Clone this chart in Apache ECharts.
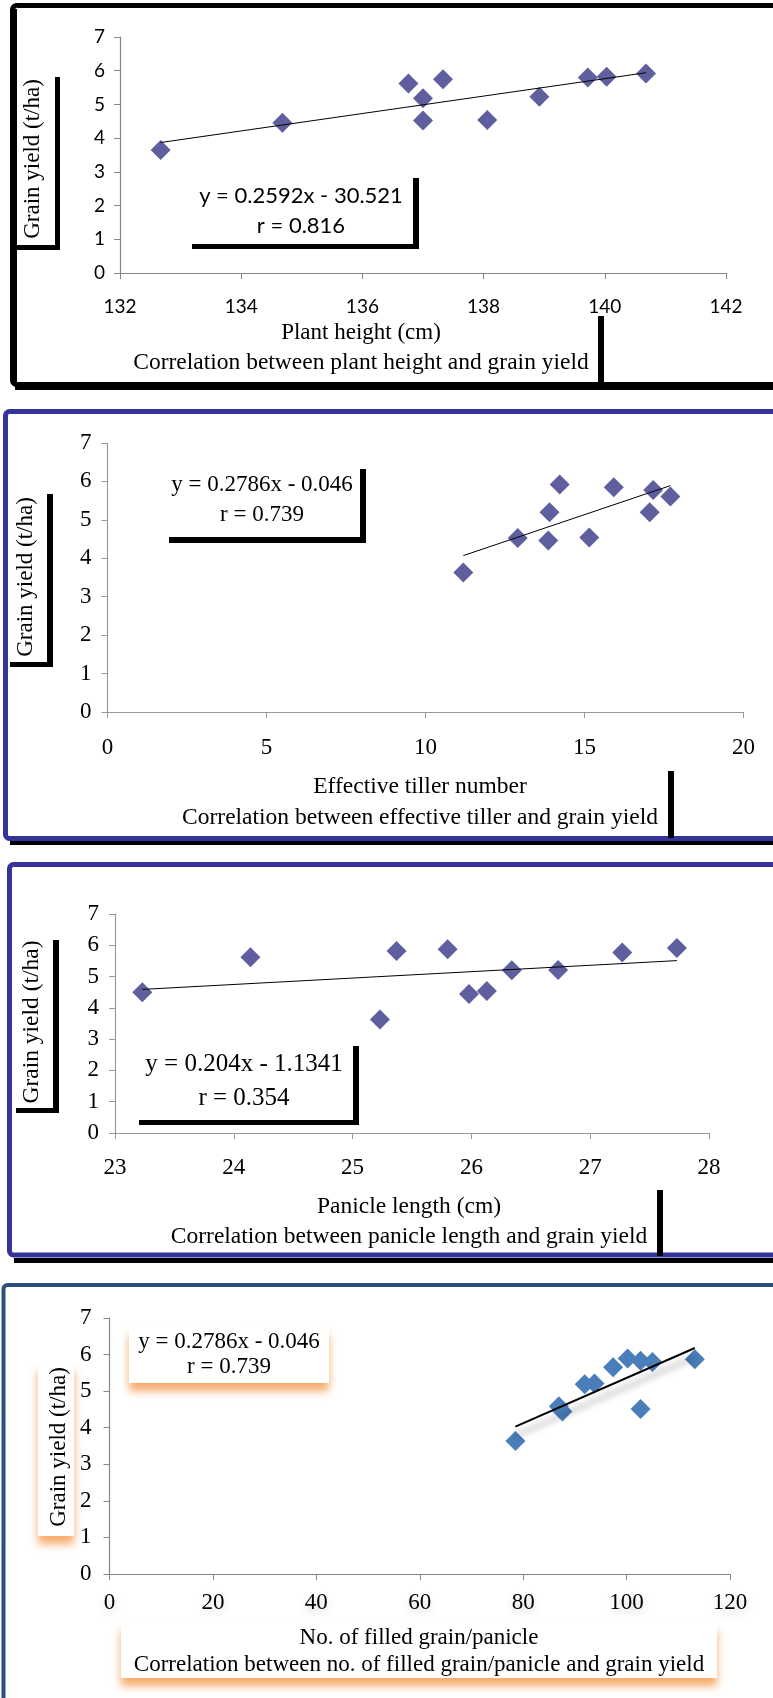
<!DOCTYPE html>
<html>
<head>
<meta charset="utf-8">
<script src="https://cdn.jsdelivr.net/npm/echarts@6/dist/echarts.min.js"></script>
<style>
  html, body { margin: 0; padding: 0; background: #fff; }
  #chart { width: 773px; height: 1698px; }
</style>
</head>
<body>
<div id="chart"></div>
<script>
// ---- data ----
// grain yield (t/ha) vs plant height (cm)
var heightX = [132.67, 134.68, 136.76, 137.0, 137.0, 137.33, 138.06, 138.92, 139.72, 140.03, 140.68];
var heightY = [3.65, 4.46, 5.62, 5.18, 4.52, 5.75, 4.54, 5.23, 5.80, 5.82, 5.92];
var heightTrend = [[132.67, 3.87], [140.68, 5.94]];

// vs effective tiller number
var tillerX = [11.19, 12.9, 13.86, 13.9, 14.22, 15.15, 15.92, 17.05, 17.16, 17.7];
var tillerY = [3.63, 4.53, 4.46, 5.2, 5.92, 4.54, 5.85, 5.2, 5.78, 5.61];
var tillerTrend = [[11.19, 4.07], [17.7, 5.89]];

// vs panicle length (cm)
var panicleX = [23.23, 24.14, 25.23, 25.37, 25.8, 25.98, 26.13, 26.34, 26.73, 27.27, 27.73];
var panicleY = [4.50, 5.62, 3.63, 5.82, 5.87, 4.44, 4.54, 5.2, 5.21, 5.77, 5.91];
var panicleTrend = [[23.23, 4.59], [27.73, 5.51]];

// vs no. of filled grain/panicle
var grainX = [78.5, 86.9, 87.6, 91.9, 93.8, 97.4, 100.2, 102.7, 102.7, 105.0, 113.2];
var grainY = [3.64, 4.59, 4.44, 5.19, 5.21, 5.65, 5.89, 5.83, 4.51, 5.8, 5.87];
var grainTrend = [[78.5, 4.03], [113.2, 6.18]];

// axis ranges [min, max, interval]
var heightAxis = [132, 142, 2];
var tillerAxis = [0, 20, 5];
var panicleAxis = [23, 28, 1];
var grainAxis = [0, 120, 20];
var yieldAxis = [0, 7, 1];

var equations = [
  ['y = 0.2592x - 30.521', 'r = 0.816'],
  ['y = 0.2786x - 0.046', 'r = 0.739'],
  ['y = 0.204x - 1.1341', 'r = 0.354'],
  ['y = 0.2786x - 0.046', 'r = 0.739']
];
var xTitles = ['Plant height (cm)', 'Effective tiller number', 'Panicle length (cm)', 'No. of filled grain/panicle'];
var captions = [
  'Correlation between plant height and grain yield',
  'Correlation between effective tiller and grain yield',
  'Correlation between panicle length and grain yield',
  'Correlation between no. of filled grain/panicle and grain yield'
];
var yTitle = 'Grain yield (t/ha)';

var SERIF = '"Liberation Serif", "Times New Roman", serif';
var SANS = 'Lato, "Liberation Sans", sans-serif';

function pairs(xs, ys) {
  return xs.map(function (x, i) { return [x, ys[i]]; });
}

function xAxisOf(idx, range, font, size, margin, color, glow) {
  var lab = { fontFamily: font, fontSize: size, color: '#000', margin: margin };
  if (glow) {
    lab.textShadowColor = 'rgba(0,0,0,0.18)';
    lab.textShadowBlur = 8;
    lab.textShadowOffsetY = 4;
  }
  return {
    type: 'value', gridIndex: idx, min: range[0], max: range[1], interval: range[2],
    axisLine: { show: true, onZero: false, lineStyle: { color: color, width: 1.2 } },
    axisTick: { show: true, length: 6, lineStyle: { color: color } },
    splitLine: { show: false },
    axisLabel: lab
  };
}

function yAxisOf(idx, font, size, margin, color) {
  return {
    type: 'value', gridIndex: idx, min: yieldAxis[0], max: yieldAxis[1], interval: yieldAxis[2],
    axisLine: { show: true, onZero: false, lineStyle: { color: color, width: 1.2 } },
    axisTick: { show: true, length: 6, lineStyle: { color: color } },
    splitLine: { show: false },
    axisLabel: { fontFamily: font, fontSize: size, color: '#000', margin: margin }
  };
}

function points(idx, data, color) {
  return {
    type: 'scatter', xAxisIndex: idx, yAxisIndex: idx, data: data,
    symbol: 'diamond', symbolSize: 20, itemStyle: { color: color, opacity: 1 },
    z: 3
  };
}

function trend(idx, data, width, shadow) {
  var ls = { color: '#000', width: width };
  if (shadow) {
    ls.shadowColor = 'rgba(0,0,0,0.45)';
    ls.shadowBlur = 7;
    ls.shadowOffsetY = 9;
  }
  return {
    type: 'line', xAxisIndex: idx, yAxisIndex: idx, data: data,
    symbol: 'none', lineStyle: ls, z: 4, silent: true
  };
}

function bar(x, y, w, h) {
  return { type: 'rect', shape: { x: x, y: y, width: w, height: h }, style: { fill: '#000' }, z: 10 };
}

function txt(s, x, y, font, size, rot) {
  return {
    type: 'text', x: x, y: y, rotation: rot || 0, z: 12,
    style: { text: s, x: 0, y: 0, fontFamily: font, fontSize: size, fill: '#000', align: 'center', verticalAlign: 'middle' }
  };
}

function frame(x, y, w, h, color, lw) {
  return { type: 'rect', shape: { x: x, y: y, width: w, height: h, r: 4 }, style: { fill: 'none', stroke: color, lineWidth: lw }, z: 9 };
}

function shadowBox(x, y, w, h) {
  return {
    type: 'rect', shape: { x: x, y: y, width: w, height: h }, z: 1,
    style: { fill: '#fff', shadowColor: 'rgba(246,168,100,0.95)', shadowBlur: 8, shadowOffsetY: 8 }
  };
}

var purple = '#5F5F9F';
var steel = '#4A7EBB';

var graphics = [
  // panel 1 frame (black)
  frame(12.5, 5.5, 800, 379, '#000', 5),
  bar(15, 385, 760, 5),
  bar(15, 9, 2, 376),
  // panel 2 frame (blue)
  frame(5.5, 411.5, 800, 427, '#333399', 5),
  bar(10, 841, 763, 4),
  // panel 3 frame (blue)
  frame(9.5, 864.5, 800, 390.5, '#333399', 5),
  bar(14, 1258, 759, 5),
  // panel 4 frame (dark blue)
  frame(3.5, 1285, 800, 500, '#2C4F80', 4),

  // panel 1 texts and brackets
  txt(yTitle, 32.5, 159, SERIF, 23, Math.PI / 2),
  bar(55, 77, 5, 173), bar(17, 245, 43, 5),
  txt(equations[0][0], 301, 196, SANS, 22),
  txt(equations[0][1], 301, 226, SANS, 22),
  bar(413, 178, 6, 71), bar(192, 244, 227, 5),
  txt(xTitles[0], 361, 333, SERIF, 23),
  txt(captions[0], 361, 363, SERIF, 23.5),
  bar(598, 316, 6, 68),

  // panel 2
  txt(yTitle, 26, 577, SERIF, 23, Math.PI / 2),
  bar(47, 494, 6, 173), bar(10, 662, 43, 5),
  txt(equations[1][0], 262, 485, SERIF, 23),
  txt(equations[1][1], 262, 515, SERIF, 23),
  bar(360, 469, 6, 74), bar(169, 537, 197, 6),
  txt(xTitles[1], 420, 787, SERIF, 23.5),
  txt(captions[1], 420, 818, SERIF, 23.5),
  bar(668, 771, 6, 67),

  // panel 3
  txt(yTitle, 32, 1022, SERIF, 23.5, Math.PI / 2),
  bar(53, 940, 6, 173), bar(16, 1108, 43, 5),
  txt(equations[2][0], 244, 1064, SERIF, 25),
  txt(equations[2][1], 244, 1098, SERIF, 25),
  bar(353, 1046, 6, 79), bar(139, 1120, 219, 5),
  txt(xTitles[2], 409, 1207, SERIF, 23.5),
  txt(captions[2], 409, 1237, SERIF, 23.5),
  bar(657, 1190, 6, 66),

  // panel 4 (boxes with orange shadow)
  shadowBox(38, 1363, 36, 173),
  shadowBox(129, 1327, 200, 56),
  shadowBox(121, 1623, 596, 55),
  txt(yTitle, 59, 1447, SERIF, 23, Math.PI / 2),
  txt(equations[3][0], 229, 1342, SERIF, 23),
  txt(equations[3][1], 229, 1367, SERIF, 23),
  txt(xTitles[3], 419, 1638, SERIF, 23),
  txt(captions[3], 419, 1665, SERIF, 23)
];

var chart = echarts.init(document.getElementById('chart'));
chart.setOption({
  animation: false,
  backgroundColor: '#fff',
  grid: [
    { left: 120, top: 37, width: 606, height: 236 },
    { left: 107.5, top: 443, width: 636, height: 269 },
    { left: 115, top: 914, width: 594, height: 219 },
    { left: 109.5, top: 1318, width: 620.5, height: 256 }
  ],
  xAxis: [
    xAxisOf(0, heightAxis, SANS, 19, 24, '#868686', false),
    xAxisOf(1, tillerAxis, SERIF, 23, 24, '#9a9a9a', false),
    xAxisOf(2, panicleAxis, SERIF, 23, 23, '#9a9a9a', false),
    xAxisOf(3, grainAxis, SERIF, 23, 17, '#868686', true)
  ],
  yAxis: [
    yAxisOf(0, SANS, 19, 15, '#868686'),
    yAxisOf(1, SERIF, 23, 16, '#9a9a9a'),
    yAxisOf(2, SERIF, 23, 16, '#9a9a9a'),
    yAxisOf(3, SERIF, 23, 18, '#868686')
  ],
  series: [
    trend(0, heightTrend, 1, false),
    points(0, pairs(heightX, heightY), purple),
    trend(1, tillerTrend, 1, false),
    points(1, pairs(tillerX, tillerY), purple),
    trend(2, panicleTrend, 1, false),
    points(2, pairs(panicleX, panicleY), purple),
    points(3, pairs(grainX, grainY), steel),
    trend(3, grainTrend, 2, true)
  ],
  graphic: graphics
});
</script>
</body>
</html>
